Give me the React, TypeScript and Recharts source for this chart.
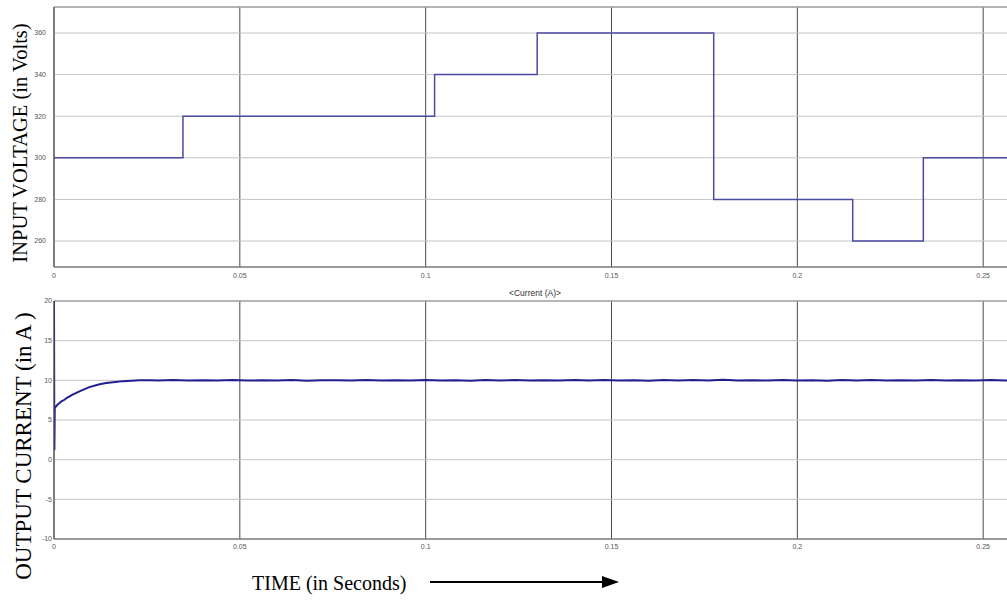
import React from 'react';
import { LineChart, Line, XAxis, YAxis, CartesianGrid, ReferenceLine } from 'recharts';

// Time axis ticks (seconds)
const timeTicks = [0, 0.05, 0.1, 0.15, 0.2, 0.25];
const timeMax = 0.2626;

// Input voltage: step changes (time, volts)
const voltageTimes = [0, 0.0347, 0.1024, 0.13, 0.1775, 0.2149, 0.2339, 0.2626];
const voltageValues = [300, 320, 340, 360, 280, 260, 300, 300];
const voltageTicks = [260, 280, 300, 320, 340, 360];
const voltageDomain = [247.5, 372.5];

// Output current: start-up transient then settled ~10 A with ripple
const currentPoints: [number, number][] = [
  [0, 20], [0.0001, 1.2], [0.0002, 6.5], [0.0005, 6.7], [0.001, 6.95], [0.0014, 7.1],
  [0.002, 7.35], [0.0028, 7.55], [0.0035, 7.8], [0.005, 8.2], [0.007, 8.65], [0.0095, 9.15],
  [0.012, 9.48], [0.014, 9.66], [0.0165, 9.8], [0.0185, 9.9], [0.021, 9.96], [0.023, 10.0],
  [0.026, 10.02], [0.028, 9.98], [0.032, 10.03], [0.036, 9.97], [0.04, 10.02], [0.044, 9.99],
  [0.048, 10.04], [0.052, 9.97], [0.056, 10.01], [0.06, 9.98], [0.064, 10.03], [0.068, 9.96],
  [0.072, 10.02], [0.076, 10.0], [0.08, 9.97], [0.084, 10.04], [0.088, 9.98], [0.092, 10.02],
  [0.096, 9.97], [0.1, 10.05], [0.104, 9.98], [0.108, 10.02], [0.112, 9.96], [0.116, 10.03],
  [0.12, 9.99], [0.124, 10.04], [0.128, 9.97], [0.132, 10.02], [0.136, 9.98], [0.14, 10.03],
  [0.144, 9.97], [0.148, 10.05], [0.152, 9.98], [0.156, 10.02], [0.16, 9.96], [0.164, 10.04],
  [0.168, 9.99], [0.172, 10.03], [0.176, 9.97], [0.18, 10.06], [0.184, 9.98], [0.188, 10.02],
  [0.192, 9.97], [0.196, 10.03], [0.2, 9.98], [0.204, 10.02], [0.208, 9.96], [0.212, 10.04],
  [0.216, 9.99], [0.22, 10.03], [0.224, 9.97], [0.228, 10.02], [0.232, 9.98], [0.236, 10.04],
  [0.24, 9.97], [0.244, 10.02], [0.248, 9.98], [0.252, 10.03], [0.256, 9.99], [0.2626, 10.01],
];
const currentTicks = [-10, -5, 0, 5, 10, 15, 20];
const currentDomain = [-10, 20];

const voltageData = voltageTimes.map((t, i) => ({ t, v: voltageValues[i] }));
const currentData = currentPoints.map(([t, v]) => ({ t, v }));

const tickStyle = { fill: '#555', fontSize: 7, fontFamily: 'Liberation Sans, Arial, sans-serif' };
const fmt = (v: number) => String(v);

export default function App() {
  return (
    <div style={{ position: 'absolute', left: 0, top: 0, width: 1007, height: 600, overflow: 'hidden', background: '#fff' }}>
      <div style={{ position: 'absolute', left: 0, top: 0 }}>
        <LineChart width={1030} height={300} data={voltageData} margin={{ top: 7, right: 0, bottom: 13, left: 0 }}>
          <CartesianGrid horizontal={false} vertical={true} stroke="#4a4a4a" />
          <CartesianGrid horizontal={true} vertical={false} stroke="#c4c4c4" />
          <XAxis dataKey="t" type="number" domain={[0, timeMax]} ticks={timeTicks} allowDataOverflow
            tickFormatter={fmt} tick={tickStyle} tickLine={false} tickSize={0} tickMargin={6} height={20}
            axisLine={{ stroke: '#555' }} />
          <YAxis type="number" domain={voltageDomain} ticks={voltageTicks} allowDataOverflow
            tick={tickStyle} tickLine={false} tickSize={0} tickMargin={8} width={54}
            axisLine={{ stroke: '#555' }} />
          <ReferenceLine y={voltageDomain[1]} stroke="#888" />
          <Line type="stepAfter" dataKey="v" stroke="#4b4ba3" strokeWidth={1.5} dot={false} isAnimationActive={false} />
        </LineChart>
      </div>
      <div style={{ position: 'absolute', left: 0, top: 290 }}>
        <LineChart width={1030} height={280} data={currentData} margin={{ top: 11, right: 0, bottom: 11, left: 0 }}>
          <CartesianGrid horizontal={false} vertical={true} stroke="#4a4a4a" />
          <CartesianGrid horizontal={true} vertical={false} stroke="#c4c4c4" />
          <XAxis dataKey="t" type="number" domain={[0, timeMax]} ticks={timeTicks} allowDataOverflow
            tickFormatter={fmt} tick={tickStyle} tickLine={false} tickSize={0} tickMargin={5} height={20}
            axisLine={{ stroke: '#555' }} />
          <YAxis type="number" domain={currentDomain} ticks={currentTicks} allowDataOverflow
            tick={tickStyle} tickLine={false} tickSize={0} tickMargin={2} width={54}
            axisLine={{ stroke: '#555' }} />
          <ReferenceLine y={currentDomain[1]} stroke="#888" />
          <Line type="linear" dataKey="v" stroke="#1f1f8f" strokeWidth={2} dot={false} isAnimationActive={false} />
        </LineChart>
      </div>
      <svg width={1007} height={600} style={{ position: 'absolute', left: 0, top: 0, pointerEvents: 'none' }}>
        <text x={535} y={293} textAnchor="middle" dominantBaseline="central" fontSize={8.5}
          fontFamily="Liberation Sans, Arial, sans-serif" fill="#333">{'<Current (A)>'}</text>
        <text transform="translate(27,143) rotate(-90)" textAnchor="middle" fontSize={20.5}
          fontFamily="Liberation Serif, Times New Roman, serif" fill="#000">INPUT VOLTAGE (in Volts)</text>
        <text transform="translate(31,446) rotate(-90)" textAnchor="middle" fontSize={23}
          fontFamily="Liberation Serif, Times New Roman, serif" fill="#000">OUTPUT CURRENT (in A )</text>
        <text x={252} y={590} fontSize={20} fontFamily="Liberation Serif, Times New Roman, serif" fill="#000">TIME (in Seconds)</text>
        <line x1={430} y1={582} x2={604} y2={582} stroke="#000" strokeWidth={2} />
        <polygon points="602,576 619,582 602,588" fill="#000" />
      </svg>
    </div>
  );
}
